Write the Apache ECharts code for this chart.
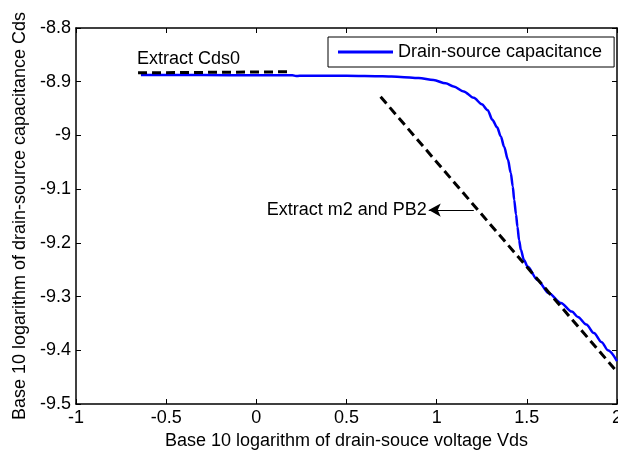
<!DOCTYPE html>
<html>
<head>
<meta charset="utf-8">
<script src="https://cdn.jsdelivr.net/npm/echarts@6/dist/echarts.min.js"></script>
<style>
  html, body { margin: 0; padding: 0; background: #fff; }
  #chart { width: 618px; height: 456px; }
</style>
</head>
<body>
<div id="chart"></div>
<script>
// measured curve: log10(Vds) vs log10(Cds)
const logVds = [-0.64, -0.3, 0, 0.2, 0.22, 0.24, 0.5, 0.7, 0.8, 0.9, 0.983, 1.05, 1.094, 1.15, 1.206, 1.25,
  1.283, 1.309, 1.335, 1.356, 1.374, 1.395, 1.411, 1.422, 1.43, 1.44, 1.448, 1.457, 1.467, 1.484,
  1.504, 1.559, 1.622, 1.689, 1.75, 1.783, 1.83, 1.872, 1.915, 1.95, 2.0];
const logCds = [-8.8875, -8.8875, -8.888, -8.888, -8.8895, -8.889, -8.889, -8.890, -8.891, -8.893, -8.897, -8.903,
  -8.909, -8.918, -8.930, -8.942, -8.953, -8.971, -8.985, -9.002, -9.021, -9.045, -9.070, -9.095,
  -9.120, -9.147, -9.170, -9.195, -9.213, -9.232, -9.244, -9.269, -9.294, -9.312, -9.328, -9.338,
  -9.352, -9.368, -9.385, -9.400, -9.420];

// extraction lines
const cds0X = [-0.656, 0.198];
const cds0Y = [-8.8835, -8.8815];
const m2X = [0.689, 2.0];
const m2Y = [-8.928, -9.44];

// annotations
const cds0Label = { text: 'Extract Cds0', at: [-0.662, -8.858] };
const m2Label = { text: 'Extract m2 and PB2', from: [1.206, -9.139], to: [0.956, -9.139] };

const xTicks = { min: -1, max: 2, step: 0.5 };
const yTicks = { min: -9.5, max: -8.8, step: 0.1 };

const zip = (a, b) => a.map((v, i) => [v, b[i]]);
const font = "'Liberation Sans', Arial, sans-serif";
const fs = 18;

const chart = echarts.init(document.getElementById('chart'));

const baseX = {
  type: 'value', min: xTicks.min, max: xTicks.max, interval: xTicks.step,
  splitLine: { show: false },
  axisLine: { show: true, onZero: false, lineStyle: { color: '#000', width: 1.5 } },
  axisTick: { show: true, inside: true, length: 5, lineStyle: { color: '#000' } }
};
const baseY = {
  type: 'value', min: yTicks.min, max: yTicks.max, interval: yTicks.step,
  splitLine: { show: false },
  axisLine: { show: true, onZero: false, lineStyle: { color: '#000', width: 1.5 } },
  axisTick: { show: true, inside: true, length: 5, lineStyle: { color: '#000' } }
};

chart.setOption({
  animation: false,
  backgroundColor: '#fff',
  textStyle: { fontFamily: font },
  grid: { left: 76, right: 1, top: 28, bottom: 52, outerBoundsMode: 'none', containLabel: false },
  legend: {
    data: ['Drain-source capacitance'],
    left: 328, top: 37,
    icon: 'rect', itemWidth: 55, itemHeight: 3,
    padding: [6, 12, 6, 10],
    borderColor: '#000', borderWidth: 1, borderRadius: 0,
    backgroundColor: '#fff',
    selectedMode: false,
    textStyle: { fontSize: fs, color: '#000', fontFamily: font }
  },
  xAxis: [
    Object.assign({}, baseX, {
      position: 'bottom',
      axisLabel: { fontSize: fs, color: '#000', margin: 5, fontFamily: font },
      name: 'Base 10 logarithm of drain-souce voltage Vds',
      nameLocation: 'middle', nameGap: 27,
      nameTextStyle: { fontSize: fs, color: '#000', fontFamily: font }
    }),
    Object.assign({}, baseX, { position: 'top', axisLabel: { show: false } })
  ],
  yAxis: [
    Object.assign({}, baseY, {
      position: 'left',
      axisLabel: {
        fontSize: fs, color: '#000', margin: 5, fontFamily: font,
        formatter: v => String(parseFloat(v.toFixed(1)))
      },
      name: 'Base 10 logarithm of drain-source capacitance Cds',
      nameLocation: 'middle', nameGap: 47,
      nameTextStyle: { fontSize: fs, color: '#000', fontFamily: font }
    }),
    Object.assign({}, baseY, { position: 'right', axisLabel: { show: false } })
  ],
  series: [
    {
      name: 'Drain-source capacitance',
      type: 'line',
      data: zip(logVds, logCds),
      symbol: 'none',
      smooth: 0.3,
      smoothMonotone: 'x',
      itemStyle: { color: '#0000ff' },
      lineStyle: { color: '#0000ff', width: 2.5 }
    },
    {
      name: 'cds0',
      type: 'line',
      data: zip(cds0X, cds0Y),
      symbol: 'none',
      lineStyle: { color: '#000', width: 3, type: [9, 5] },
      markPoint: {
        silent: true,
        symbol: 'circle', symbolSize: 0,
        label: { show: true, position: 'right', distance: 0, color: '#000', fontSize: fs, fontFamily: font,
          formatter: cds0Label.text },
        data: [{ coord: cds0Label.at }]
      }
    },
    {
      name: 'm2',
      type: 'line',
      data: zip(m2X, m2Y),
      symbol: 'none',
      lineStyle: { color: '#000', width: 3, type: [9, 5] },
      markLine: {
        silent: true,
        symbol: ['none', 'arrow'],
        symbolSize: [10, 12],
        label: { show: false },
        lineStyle: { color: '#000', width: 1, type: 'solid' },
        data: [[{ coord: m2Label.from }, { coord: m2Label.to }]]
      },
      markPoint: {
        silent: true,
        symbol: 'circle', symbolSize: 0,
        label: { show: true, position: 'left', distance: 2, color: '#000', fontSize: fs, fontFamily: font,
          formatter: m2Label.text },
        data: [{ coord: m2Label.to }]
      }
    }
  ]
});
</script>
</body>
</html>
